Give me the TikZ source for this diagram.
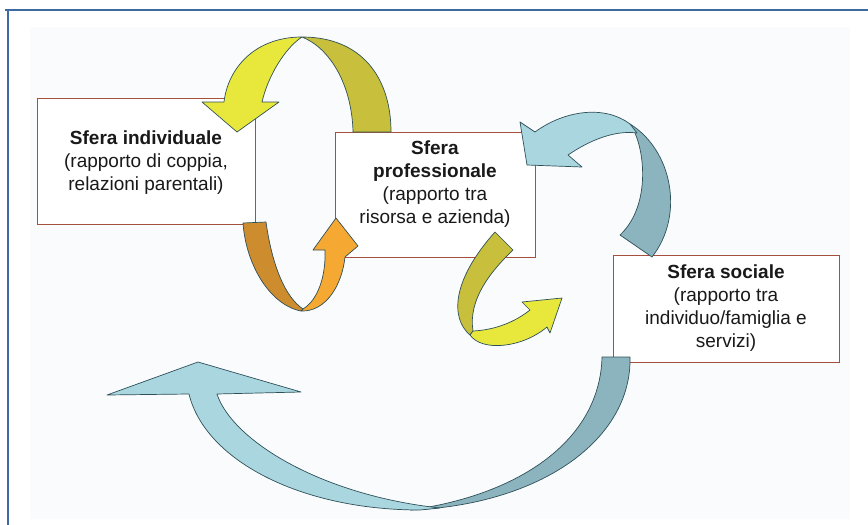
\documentclass[tikz,border=0pt]{standalone}
\usepackage{fontspec}
\setmainfont{Liberation Sans}
\definecolor{framblue}{HTML}{3D6AA3}
\definecolor{pagetint}{HTML}{FAFBFD}
\definecolor{boxred}{HTML}{A5503C}
\definecolor{ribbonline}{HTML}{2E5058}
\definecolor{yellowlight}{HTML}{E8E83C}
\definecolor{yellowdark}{HTML}{C8C03C}
\definecolor{orangelight}{HTML}{F5A832}
\definecolor{orangedark}{HTML}{CD8C2D}
\definecolor{bluelight}{HTML}{AAD6E0}
\definecolor{bluedark}{HTML}{8CB4BE}
\begin{document}
\begin{tikzpicture}[x=1pt,y=-1pt,
  sfera/.style={draw=boxred, line width=0.9pt, fill=white, inner sep=0pt, anchor=north west},
  sferatext/.style={align=center, font=\fontsize{19}{23}\selectfont, text=black!90},
  ribbon/.style={draw=ribbonline, line width=0.7pt, line join=round},
]
\useasboundingbox (0,0) rectangle (868,525);
\fill[white] (0,0) rectangle (868,525);
\fill[pagetint] (30,27) rectangle (850,519);
% page frame
\draw[framblue, line width=2pt] (5,10) -- (868,10);
\draw[framblue, line width=2pt] (7.5,10) -- (7.5,525);

% the three spheres
\node[sfera, minimum width=218, minimum height=126] (indiv) at (37,98) {};
\node[sfera, minimum width=200, minimum height=125] (prof) at (335,132) {};
\node[sfera, minimum width=226, minimum height=107] (soc) at (613,255) {};

% yellow ribbon: professional -> individual (over the top)
\filldraw[ribbon, fill=yellowdark]
  (353,132) -- (391,132) .. controls (391,78) and (362,37) .. (302,37)
  .. controls (330,48) and (352,85) .. (353,132) -- cycle;
\filldraw[ribbon, fill=yellowlight]
  (302,37) .. controls (255,37) and (228,68) .. (224,102)
  -- (202,102) -- (237,132) -- (279,102) -- (262,102)
  .. controls (268,76) and (285,48) .. (302,37) -- cycle;

% orange ribbon: individual -> professional (underneath)
\filldraw[ribbon, fill=orangedark]
  (243,223) -- (266,222) .. controls (272,265) and (285,297) .. (303,309)
  -- (301,311) .. controls (270,305) and (246,265) .. (243,223) -- cycle;
\filldraw[ribbon, fill=orangelight]
  (301,311) .. controls (326,312) and (342,285) .. (345,257)
  -- (358,246) -- (336,218) -- (313,250) -- (325,250)
  .. controls (326,276) and (318,300) .. (303,309) -- cycle;

% yellow ribbon: professional -> social
\filldraw[ribbon, fill=yellowdark]
  (495,232) -- (513,250) .. controls (490,272) and (468,300) .. (473,331)
  -- (470,335) .. controls (450,318) and (452,280) .. (495,232) -- cycle;
\filldraw[ribbon, fill=yellowlight]
  (470,335) .. controls (482,352) and (522,348) .. (547,327)
  -- (550,333) -- (562,298) -- (522,302) -- (530,310)
  .. controls (515,322) and (495,330) .. (473,331) -- cycle;

% blue ribbon: social -> professional
\filldraw[ribbon, fill=bluedark]
  (620,235) -- (652,257) .. controls (685,215) and (672,150) .. (630,124)
  .. controls (645,145) and (652,205) .. (620,235) -- cycle;
\filldraw[ribbon, fill=bluelight]
  (630,124) .. controls (605,105) and (565,110) .. (535,132)
  -- (520,122) -- (527,165) -- (582,167) -- (568,155)
  .. controls (590,140) and (615,130) .. (637,133) -- cycle;

% large blue ribbon: social -> back around the bottom
\filldraw[ribbon, fill=bluedark]
  (602,357) -- (630,357) .. controls (632,440) and (540,505) .. (410,510)
  .. controls (520,495) and (600,440) .. (602,357) -- cycle;
\filldraw[ribbon, fill=bluelight]
  (420,510) .. controls (300,510) and (205,460) .. (189,394)
  -- (107,395) -- (198,362) -- (301,392) -- (217,394)
  .. controls (232,440) and (320,495) .. (440,508) -- cycle;

% texts
\node[sferatext] (indivtext) at (146,163)
  {\textbf{Sfera individuale}\\(rapporto di coppia,\\relazioni parentali)};
\node[sferatext] (proftext) at (435,184)
  {\textbf{Sfera}\\\textbf{professionale}\\(rapporto tra\\risorsa e azienda)};
\node[sferatext] (soctext) at (726,308)
  {\textbf{Sfera sociale}\\(rapporto tra\\individuo/famiglia e\\servizi)};
\end{tikzpicture}
\end{document}
